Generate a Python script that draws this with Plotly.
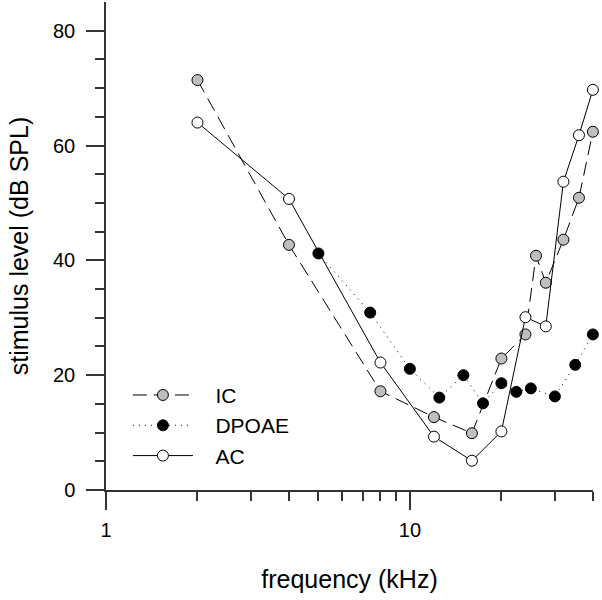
import plotly.graph_objects as go

# Data
ic_freq = [2, 4, 8, 12, 16, 20, 24, 26, 28, 32, 36, 40]
ic_level = [71.4, 42.7, 17.2, 12.7, 9.9, 22.9, 27.1, 40.8, 36.1, 43.6, 50.9, 62.4]

dpoae_freq = [5, 7.4, 10, 12.5, 15, 17.4, 20, 22.4, 25, 30, 35, 40]
dpoae_level = [41.2, 30.9, 21.1, 16.1, 20.0, 15.1, 18.6, 17.1, 17.7, 16.3, 21.8, 27.1]

ac_freq = [2, 4, 8, 12, 16, 20, 24, 28, 32, 36, 40]
ac_level = [64.0, 50.7, 22.2, 9.3, 5.1, 10.2, 30.1, 28.5, 53.7, 61.8, 69.7]

x_major = [1, 10]
x_minor = [2, 3, 4, 5, 6, 7, 8, 9, 20, 30, 40]
y_major = [0, 20, 40, 60, 80]
y_minor = [5, 10, 15, 25, 30, 35, 45, 50, 55, 65, 70, 75]

FONT = "Liberation Sans, Arial, sans-serif"
PAD = "\u00a0\u00a0\u00a0"

fig = go.Figure()
fig.add_trace(go.Scatter(
    x=ic_freq, y=ic_level, name=PAD + "IC", mode="lines+markers", cliponaxis=False,
    line=dict(color="black", width=1, dash="14px,7px"),
    marker=dict(size=11, color="#bfbfbf", line=dict(color="black", width=1)),
))
fig.add_trace(go.Scatter(
    x=dpoae_freq, y=dpoae_level, name=PAD + "DPOAE", mode="lines+markers", cliponaxis=False,
    line=dict(color="black", width=1, dash="1px,5px"),
    marker=dict(size=11, color="black", line=dict(color="black", width=1)),
))
fig.add_trace(go.Scatter(
    x=ac_freq, y=ac_level, name=PAD + "AC", mode="lines+markers", cliponaxis=False,
    line=dict(color="black", width=1),
    marker=dict(size=11, color="white", line=dict(color="black", width=1)),
))

fig.update_layout(
    width=602, height=600,
    margin=dict(l=106, r=9, t=2, b=110, autoexpand=False),
    paper_bgcolor="white", plot_bgcolor="white",
    font=dict(family=FONT, color="black"),
    showlegend=True,
    legend=dict(
        x=0.045, y=0.236, xanchor="left", yanchor="top",
        font=dict(size=21, family=FONT), itemwidth=60,
        bgcolor="rgba(0,0,0,0)", tracegroupgap=0,
    ),
    xaxis=dict(
        type="log", range=[0, 1.6025], automargin=False,
        tickmode="array", tickvals=x_major, ticktext=["1", "10"],
        ticks="outside", ticklen=18, tickwidth=1.5, tickcolor="#333",
        minor=dict(tickmode="array", tickvals=x_minor, ticks="outside",
                   ticklen=9, tickwidth=1.5, tickcolor="#333", showgrid=False),
        showline=True, linecolor="#333", linewidth=1.5,
        showgrid=False, zeroline=False,
        tickfont=dict(size=20, family=FONT), ticklabelstandoff=3,
        title=dict(text="frequency (kHz)", font=dict(size=25, family=FONT), standoff=31),
    ),
    yaxis=dict(
        range=[0, 85], automargin=False,
        tickmode="array", tickvals=y_major,
        ticks="outside", ticklen=18, tickwidth=1.5, tickcolor="#333",
        minor=dict(tickmode="array", tickvals=y_minor, ticks="outside",
                   ticklen=9, tickwidth=1.5, tickcolor="#333", showgrid=False),
        showline=True, linecolor="#333", linewidth=1.5,
        showgrid=False, zeroline=False,
        tickfont=dict(size=20, family=FONT), ticklabelstandoff=7,
        title=dict(text="stimulus level (dB SPL)", font=dict(size=25, family=FONT), standoff=17),
    ),
)

fig.write_html("out.html", post_script="document.body.style.margin='0';",
               config={"displayModeBar": False})
